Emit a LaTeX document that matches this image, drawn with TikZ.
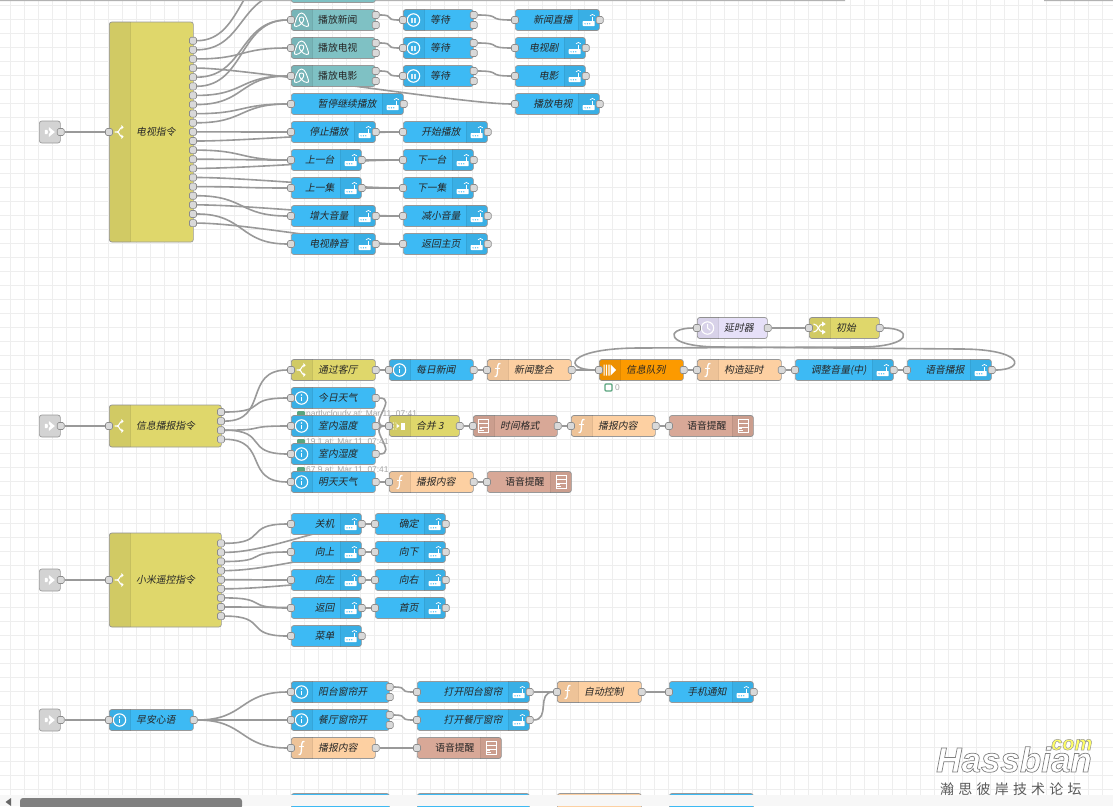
\documentclass[tikz,border=0pt]{standalone}
\usepackage{fontspec}
\usepackage{xcolor}
\usepackage{tikz}
\usetikzlibrary{backgrounds,calc}
\newfontfamily\cjkslant[FakeSlant=0.2]{Noto Sans CJK SC}
\newfontfamily\cjkup{Noto Sans CJK SC}
\newfontfamily\markcjk[LetterSpace=30]{Noto Sans CJK SC}
\newfontfamily\markfont{Liberation Sans}
\definecolor{flowblue}{HTML}{3DBAF4}
\definecolor{flowteal}{HTML}{7FC1C4}
\definecolor{flowolive}{HTML}{DFD76B}
\definecolor{floworange}{HTML}{FDD0A2}
\definecolor{flowqueue}{HTML}{FC9A00}
\definecolor{flowlavender}{HTML}{E6E0F8}
\definecolor{flowsalmon}{HTML}{D8A897}
\definecolor{flowgray}{HTML}{D3D3D3}
\definecolor{wiregray}{HTML}{999999}
\definecolor{gridgray}{HTML}{EEEEEE}
\definecolor{flowstatus}{HTML}{5AA57F}
\definecolor{markyellow}{HTML}{FFFF66}
\tikzset{
  flowbody/.style={rounded corners=2.5pt, draw=black!40, line width=0.7pt, inner sep=0pt, minimum height=21pt},
  devicenode/.style={fill=flowblue},
  alexanode/.style={fill=flowteal},
  switchnode/.style={fill=flowolive},
  funcnode/.style={fill=floworange},
  queuenode/.style={fill=flowqueue},
  delaynode/.style={fill=flowlavender},
  speechnode/.style={fill=flowsalmon},
  injectnode/.style={fill=flowgray, minimum height=22pt},
  iconstrip/.style={fill=black, fill opacity=0.06},
  stripline/.style={draw=black, draw opacity=0.1, line width=0.6pt},
  port/.style={rounded corners=1.5pt, draw=black!45, fill=black!15, line width=0.6pt, minimum size=7pt, inner sep=0pt},
  wire/.style={draw=wiregray, line width=1.6pt},
  gridline/.style={draw=gridgray, line width=0.8pt},
  flowlabel/.style={font=\cjkslant\fontsize{9.8}{10}\selectfont, text=black!85, inner sep=0pt},
  statustext/.style={font=\markfont\fontsize{8.4}{9}\selectfont, text=black!35, inner sep=0pt, anchor=west},
  statusdot/.style={fill=flowstatus, rounded corners=1pt},
  iconline/.style={draw=white, line width=1.1pt},
  iconrouter/.pic={
    \fill[white, rounded corners=0.6pt] (-6.5,1) rectangle (5.5,6);
    \fill[white] (2.6,1.5) rectangle (3.8,-3);
    \draw[white, line width=0.7pt] (0.8,-4.2) .. controls (2,-6) and (4.4,-6) .. (5.6,-4.2);
    \fill[flowblue] (-4.2,3.8) circle (0.7) (-1.8,3.8) circle (0.7) (0.6,3.8) circle (0.7);
  },
  iconinfo/.pic={
    \draw[iconline] (0,0) circle (6.2);
    \fill[white] (0,-3) circle (0.8);
    \draw[iconline] (0,-1) -- (0,3.2);
  },
  iconpause/.pic={
    \draw[iconline] (0,0) circle (6.2);
    \draw[white, opacity=0.8, line width=1.1pt] (-1.5,-2.5) -- (-1.5,2.5) (1.5,-2.5) -- (1.5,2.5);
  },
  iconfunc/.pic={
    \draw[white, line width=1.3pt] (3,-6.5) .. controls (0,-7.5) and (0.2,-3) .. (0,0) .. controls (-0.2,3) and (0,7.5) .. (-3,6.5);
    \draw[white, line width=1pt] (-2.5,-1.5) -- (2.5,-1.5);
  },
  iconswitch/.pic={
    \draw[iconline] (-5,0) -- (-2.5,0) .. controls (0,0) and (0,-4.5) .. (2.5,-4.5);
    \draw[iconline] (-2.5,0) .. controls (0,0) and (0,4.5) .. (2.5,4.5);
    \fill[white] (1.8,-7) -- (1.8,-2.5) -- (4.2,-4.7) -- cycle (1.8,7) -- (1.8,2.5) -- (4.2,4.7) -- cycle;
  },
  iconalexa/.pic={
    \draw[white, line width=0.9pt] (-7,4.5) .. controls (-6,1) and (-4,-7) .. (0,-7) .. controls (4,-7) and (6,1) .. (7,4.5)
      .. controls (8,7.5) and (3,7) .. (0,3.5) .. controls (-3,0.5) and (-3,-3) .. (0,-3) .. controls (3,-3) and (3,0.5) .. (0,3.5)
      .. controls (-3,7) and (-8,7.5) .. (-7,4.5);
  },
  iconinject/.pic={
    \fill[white] (-5,-2.2) -- (-1,-2.2) -- (-1,-5) -- (5,0) -- (-1,5) -- (-1,2.2) -- (-5,2.2) -- cycle;
    \fill[flowgray] (-3.2,-4.5) -- (0.5,0) -- (-3.2,4.5) -- (-1.7,0) -- cycle;
  },
  icontemplate/.pic={
    \draw[white, line width=0.8pt] (-4.8,-6.2) rectangle (4.8,6.2);
    \draw[white, line width=0.8pt] (-4.8,-2.2) -- (4.8,-2.2) (-1.5,1.8) -- (4.8,1.8) (-4.8,4) -- (0,4);
    \fill[white] (-3.8,0.5) rectangle (-1.5,2.8);
  },
  iconjoin/.pic={
    \fill[white] (-6,-3) circle (0.6) (-6,0) circle (0.6) (-6,3) circle (0.6) (-3.6,-3) circle (0.6) (-3.6,3) circle (0.6);
    \fill[white] (-3,-2.2) -- (0.2,0) -- (-3,2.2) -- cycle;
    \fill[white] (1.5,-3.5) rectangle (5.5,3.5);
  },
  iconqueue/.pic={
    \fill[white] (-6,-5.5) rectangle (-4.8,5.5) (-3.6,-5.5) rectangle (-2.4,5.5) (-1.2,-5.5) rectangle (0,5.5);
    \fill[white] (1.2,-5.5) -- (6.5,0) -- (1.2,5.5) -- cycle;
  },
  icondelay/.pic={
    \draw[white, line width=1.1pt] (0,0) circle (6.2);
    \draw[white, line width=1pt] (0,-3.8) -- (0,0) -- (2.8,2.2);
  },
  iconshuffle/.pic={
    \draw[iconline] (-6,-4) .. controls (-1,-4) and (-1,4) .. (3,4);
    \draw[iconline] (-6,4) .. controls (-1,4) and (-1,-4) .. (3,-4);
    \fill[white] (2.6,-6.5) -- (2.6,-1.5) -- (6.2,-4) -- cycle (2.6,6.5) -- (2.6,1.5) -- (6.2,4) -- cycle;
  }
}
\newcommand{\leftflow}[7]{%
  \node[flowbody,#5,minimum width=#4pt,anchor=west] (#1) at (#2,#3) {};
  \fill[iconstrip] [rounded corners=2.5pt] (#1.south west) -- (#1.north west) [sharp corners] -- ([xshift=21pt]#1.north west) -- ([xshift=21pt]#1.south west) [rounded corners=2.5pt] -- cycle;
  \draw[stripline] ([xshift=21pt]#1.north west) -- ([xshift=21pt]#1.south west);
  \pic at ([xshift=10.5pt]#1.west) {#6};
  \node[flowlabel,anchor=west] (#1-label) at ([xshift=27pt]#1.west) {#7};
  \node[port] (#1-i) at (#1.west) {};
}
\newcommand{\rightflow}[7]{%
  \node[flowbody,#5,minimum width=#4pt,anchor=west] (#1) at (#2,#3) {};
  \fill[iconstrip] [rounded corners=2.5pt] (#1.south east) -- (#1.north east) [sharp corners] -- ([xshift=-21pt]#1.north east) -- ([xshift=-21pt]#1.south east) [rounded corners=2.5pt] -- cycle;
  \draw[stripline] ([xshift=-21pt]#1.north east) -- ([xshift=-21pt]#1.south east);
  \pic at ([xshift=-10.5pt]#1.east) {#6};
  \node[flowlabel,anchor=east] (#1-label) at ([xshift=-27pt]#1.east) {#7};
  \node[port] (#1-i) at (#1.west) {};
}
\newcommand{\injectflow}[2]{%
  \node[flowbody,injectnode,minimum width=21pt,anchor=west] (#1) at (39,#2) {};
  \pic at (#1) {iconinject};
  \node[port] (#1-o) at (#1.east) {};
}
\newcommand{\outport}[1]{\node[port] (#1-o) at (#1.east) {};}
\newcommand{\twoports}[1]{%
  \node[port] (#1-o1) at ([yshift=5pt]#1.east) {};
  \node[port] (#1-o2) at ([yshift=-5pt]#1.east) {};
}
\newcommand{\wire}[3][52]{\draw[wire] (#2) .. controls +(#1,0) and +(-#1,0) .. (#3);}
\begin{document}
\begin{tikzpicture}[x=1pt,y=-1pt]
  \useasboundingbox (0,0) rectangle (1113,806);
  \begin{scope}[on background layer]
    \fill[white] (0,0) rectangle (1113,806);
    \foreach \gx in {10.5,24.5,...,1113} \draw[gridline] (\gx,0) -- (\gx,806);
    \foreach \gy in {5,19,...,806} \draw[gridline] (0,\gy) -- (1113,\gy);
  \end{scope}
  \fill[black!30] (0,0) rectangle (845,1) (1044,0) rectangle (1113,1);

  % television commands
  \injectflow{tvinject}{132}
  \leftflow{tvswitch}{109}{132}{84}{switchnode,minimum height=220pt}{iconswitch}{电视指令}
  \foreach \n in {1,...,21} \node[port] (tvswitch-\n) at (193,{40.7+(\n-1)*9.12}) {};
  \node[flowbody,alexanode,minimum width=84pt,anchor=west] (playhidden) at (291,-8) {};
  \coordinate (tvtopa) at (291,-36);
  \coordinate (tvtopb) at (291,-8);
  \leftflow{playnews}{291}{20}{84}{alexanode}{iconalexa}{\cjkup 播放新闻} \twoports{playnews}
  \leftflow{playtv}{291}{48}{84}{alexanode}{iconalexa}{\cjkup 播放电视} \twoports{playtv}
  \leftflow{playmovie}{291}{76}{84}{alexanode}{iconalexa}{\cjkup 播放电影} \twoports{playmovie}
  \leftflow{waitnews}{403}{20}{70}{devicenode}{iconpause}{等待} \twoports{waitnews}
  \leftflow{waittv}{403}{48}{70}{devicenode}{iconpause}{等待} \twoports{waittv}
  \leftflow{waitmovie}{403}{76}{70}{devicenode}{iconpause}{等待} \twoports{waitmovie}
  \rightflow{newslive}{515}{20}{84}{devicenode}{iconrouter}{新闻直播} \outport{newslive}
  \rightflow{drama}{515}{48}{70}{devicenode}{iconrouter}{电视剧} \outport{drama}
  \rightflow{movie}{515}{76}{70}{devicenode}{iconrouter}{电影} \outport{movie}
  \rightflow{tvshow}{515}{104}{84}{devicenode}{iconrouter}{播放电视} \outport{tvshow}
  \rightflow{pauseplay}{291}{104}{112}{devicenode}{iconrouter}{暂停继续播放} \outport{pauseplay}
  \rightflow{stopplay}{291}{132}{84}{devicenode}{iconrouter}{停止播放} \outport{stopplay}
  \rightflow{startplay}{403}{132}{84}{devicenode}{iconrouter}{开始播放} \outport{startplay}
  \rightflow{prevch}{291}{160}{70}{devicenode}{iconrouter}{上一台} \outport{prevch}
  \rightflow{nextch}{403}{160}{70}{devicenode}{iconrouter}{下一台} \outport{nextch}
  \rightflow{prevep}{291}{188}{70}{devicenode}{iconrouter}{上一集} \outport{prevep}
  \rightflow{nextep}{403}{188}{70}{devicenode}{iconrouter}{下一集} \outport{nextep}
  \rightflow{volup}{291}{216}{84}{devicenode}{iconrouter}{增大音量} \outport{volup}
  \rightflow{voldown}{403}{216}{84}{devicenode}{iconrouter}{减小音量} \outport{voldown}
  \rightflow{mute}{291}{244}{84}{devicenode}{iconrouter}{电视静音} \outport{mute}
  \rightflow{home}{403}{244}{84}{devicenode}{iconrouter}{返回主页} \outport{home}

  % spoken news and weather
  \fill[statusdot] (297,411) rectangle (305,418);
  \node[statustext] (todaystatus) at (306,414) {partlycloudy at: Mar 11, 07:41};
  \fill[statusdot] (297,439) rectangle (305,446);
  \node[statustext] (tempstatus) at (306,442) {19.1 at: Mar 11, 07:41};
  \fill[statusdot] (297,467) rectangle (305,474);
  \node[statustext] (humstatus) at (306,470) {67.9 at: Mar 11, 07:41};
  \injectflow{newsinject}{426}
  \leftflow{newsswitch}{109}{426}{112}{switchnode,minimum height=42pt}{iconswitch}{信息播报指令}
  \foreach \n in {1,...,4} \node[port] (newsswitch-\n) at (221,{412+(\n-1)*9.1}) {};
  \leftflow{viahall}{291}{370}{84}{switchnode}{iconswitch}{通过客厅} \outport{viahall}
  \leftflow{dailynews}{389}{370}{84}{devicenode}{iconinfo}{每日新闻} \outport{dailynews}
  \leftflow{newsmerge}{487}{370}{84}{funcnode}{iconfunc}{新闻整合} \outport{newsmerge}
  \leftflow{msgqueue}{599}{370}{84}{queuenode}{iconqueue}{信息队列} \outport{msgqueue}
  \leftflow{makedelay}{697}{370}{84}{funcnode}{iconfunc}{构造延时} \outport{makedelay}
  \rightflow{setvolume}{795}{370}{98}{devicenode}{iconrouter}{调整音量(中)} \outport{setvolume}
  \rightflow{speaknews}{907}{370}{84}{devicenode}{iconrouter}{语音播报} \outport{speaknews}
  \leftflow{delayer}{697}{328}{70}{delaynode}{icondelay}{延时器} \outport{delayer}
  \leftflow{initial}{809}{328}{70}{switchnode}{iconshuffle}{初始} \outport{initial}
  \draw[draw=flowstatus, line width=1.3pt, rounded corners=1pt] (605,384) rectangle (612,391);
  \node[statustext] (queuestatus) at (615,387.5) {0};
  \leftflow{todayw}{291}{398}{84}{devicenode}{iconinfo}{今日天气} \outport{todayw}
  \leftflow{roomtemp}{291}{426}{84}{devicenode}{iconinfo}{室内温度} \outport{roomtemp}
  \leftflow{roomhum}{291}{454}{84}{devicenode}{iconinfo}{室内湿度} \outport{roomhum}
  \leftflow{tomorroww}{291}{482}{84}{devicenode}{iconinfo}{明天天气} \outport{tomorroww}
  \leftflow{merge}{389}{426}{70}{switchnode}{iconjoin}{合并 3} \outport{merge}
  \leftflow{timefmt}{473}{426}{84}{speechnode}{icontemplate}{时间格式} \outport{timefmt}
  \leftflow{weathertext}{571}{426}{84}{funcnode}{iconfunc}{播报内容} \outport{weathertext}
  \rightflow{weathersay}{669}{426}{84}{speechnode}{icontemplate}{\cjkup 语音提醒}
  \leftflow{tomorrowtext}{389}{482}{84}{funcnode}{iconfunc}{播报内容} \outport{tomorrowtext}
  \rightflow{tomorrowsay}{487}{482}{84}{speechnode}{icontemplate}{\cjkup 语音提醒}

  % remote control
  \injectflow{miinject}{580}
  \leftflow{miswitch}{109}{580}{112}{switchnode,minimum height=94pt}{iconswitch}{小米遥控指令}
  \foreach \n in {1,...,9} \node[port] (miswitch-\n) at (221,{543.3+(\n-1)*9.1}) {};
  \rightflow{poweroff}{291}{524}{70}{devicenode}{iconrouter}{关机} \outport{poweroff}
  \rightflow{confirm}{375}{524}{70}{devicenode}{iconrouter}{确定} \outport{confirm}
  \rightflow{upkey}{291}{552}{70}{devicenode}{iconrouter}{向上} \outport{upkey}
  \rightflow{downkey}{375}{552}{70}{devicenode}{iconrouter}{向下} \outport{downkey}
  \rightflow{leftkey}{291}{580}{70}{devicenode}{iconrouter}{向左} \outport{leftkey}
  \rightflow{rightkey}{375}{580}{70}{devicenode}{iconrouter}{向右} \outport{rightkey}
  \rightflow{backkey}{291}{608}{70}{devicenode}{iconrouter}{返回} \outport{backkey}
  \rightflow{homekey}{375}{608}{70}{devicenode}{iconrouter}{首页} \outport{homekey}
  \rightflow{menukey}{291}{636}{70}{devicenode}{iconrouter}{菜单} \outport{menukey}

  % morning routine
  \injectflow{morninginject}{720}
  \leftflow{morning}{109}{720}{84}{devicenode}{iconinfo}{早安心语} \outport{morning}
  \leftflow{balcony}{291}{692}{98}{devicenode}{iconinfo}{阳台窗帘开} \twoports{balcony}
  \leftflow{dining}{291}{720}{98}{devicenode}{iconinfo}{餐厅窗帘开} \twoports{dining}
  \leftflow{morningtext}{291}{748}{84}{funcnode}{iconfunc}{播报内容} \outport{morningtext}
  \rightflow{openbalcony}{417}{692}{112}{devicenode}{iconrouter}{打开阳台窗帘} \outport{openbalcony}
  \rightflow{opendining}{417}{720}{112}{devicenode}{iconrouter}{打开餐厅窗帘} \outport{opendining}
  \rightflow{morningsay}{417}{748}{84}{speechnode}{icontemplate}{\cjkup 语音提醒}
  \leftflow{autoctl}{557}{692}{84}{funcnode}{iconfunc}{自动控制} \outport{autoctl}
  \rightflow{phonenote}{669}{692}{84}{devicenode}{iconrouter}{手机通知} \outport{phonenote}
  \node[flowbody,devicenode,minimum width=98pt,anchor=west] (lowera) at (291,804) {};
  \node[flowbody,devicenode,minimum width=112pt,anchor=west] (lowerb) at (417,804) {};
  \node[flowbody,funcnode,minimum width=84pt,anchor=west] (lowerc) at (557,804) {};
  \node[flowbody,devicenode,minimum width=84pt,anchor=west] (lowerd) at (669,804) {};

  \begin{scope}[on background layer]
    \wire[36]{tvinject-o}{tvswitch-i}
    \wire{tvswitch-1}{tvtopa}
    \wire{tvswitch-2}{tvtopb}
    \wire{tvswitch-3}{playtv-i}
    \wire{tvswitch-4}{tvshow-i}
    \wire{tvswitch-5}{playnews-i}
    \wire{tvswitch-6}{playnews-i}
    \wire{tvswitch-7}{playmovie-i}
    \wire{tvswitch-8}{playmovie-i}
    \wire{tvswitch-9}{pauseplay-i}
    \wire{tvswitch-10}{pauseplay-i}
    \wire{tvswitch-11}{stopplay-i}
    \wire{tvswitch-12}{startplay-i}
    \wire{tvswitch-13}{prevch-i}
    \wire{tvswitch-14}{prevch-i}
    \wire{tvswitch-15}{nextch-i}
    \wire{tvswitch-16}{nextep-i}
    \wire{tvswitch-17}{prevep-i}
    \wire{tvswitch-18}{volup-i}
    \wire{tvswitch-19}{voldown-i}
    \wire{tvswitch-20}{mute-i}
    \wire{tvswitch-21}{home-i}
    \wire[21]{playnews-o1}{waitnews-i}
    \wire[21]{playtv-o1}{waittv-i}
    \wire[21]{playmovie-o1}{waitmovie-i}
    \wire[30]{waitnews-o1}{newslive-i}
    \wire[30]{waittv-o1}{drama-i}
    \wire[30]{waitmovie-o1}{movie-i}
    \wire[21]{stopplay-o}{startplay-i}
    \wire[30]{prevch-o}{nextch-i}
    \wire[30]{prevep-o}{nextep-i}
    \wire[21]{volup-o}{voldown-i}
    \wire[21]{mute-o}{home-i}

    \wire[36]{newsinject-o}{newsswitch-i}
    \wire[48]{newsswitch-1}{todayw-i}
    \wire[48]{newsswitch-2}{viahall-i}
    \wire[48]{newsswitch-3}{roomtemp-i}
    \wire[48]{newsswitch-3}{roomhum-i}
    \wire[48]{newsswitch-4}{tomorroww-i}
    \wire[10]{viahall-o}{dailynews-i}
    \wire[10]{dailynews-o}{newsmerge-i}
    \wire[10]{newsmerge-o}{msgqueue-i}
    \wire[10]{msgqueue-o}{makedelay-i}
    \wire[10]{makedelay-o}{setvolume-i}
    \wire[10]{setvolume-o}{speaknews-i}
    \wire[30]{delayer-o}{initial-i}
    \wire[23]{todayw-o}{merge-i}
    \wire[10]{roomtemp-o}{merge-i}
    \wire[23]{roomhum-o}{merge-i}
    \wire[10]{merge-o}{timefmt-i}
    \wire[10]{timefmt-o}{weathertext-i}
    \wire[10]{weathertext-o}{weathersay-i}
    \wire[10]{tomorroww-o}{tomorrowtext-i}
    \wire[10]{tomorrowtext-o}{tomorrowsay-i}
    \coordinate (loopa) at (860,347);
    \coordinate (loopb) at (640,348);
    \coordinate (loopc) at (960,349);
    \coordinate (loopd) at (720,347);
    \draw[wire] (initial-o) .. controls +(34,0) and +(53,0) .. (loopa) -- (loopb) .. controls +(-75,0) and +(-37,0) .. (msgqueue-i);
    \draw[wire] (speaknews-o) .. controls +(34,0) and +(65,0) .. (loopc) -- (loopd) .. controls +(-56,0) and +(-33,0) .. (delayer-i);

    \wire[36]{miinject-o}{miswitch-i}
    \wire[48]{miswitch-1}{poweroff-i}
    \wire[48]{miswitch-2}{confirm-i}
    \wire[48]{miswitch-3}{upkey-i}
    \wire[48]{miswitch-4}{downkey-i}
    \wire[48]{miswitch-5}{leftkey-i}
    \wire[48]{miswitch-6}{rightkey-i}
    \wire[48]{miswitch-7}{backkey-i}
    \wire[48]{miswitch-8}{homekey-i}
    \wire[48]{miswitch-9}{menukey-i}
    \wire[10]{poweroff-o}{confirm-i}
    \wire[10]{upkey-o}{downkey-i}
    \wire[10]{leftkey-o}{rightkey-i}
    \wire[10]{backkey-o}{homekey-i}

    \wire[36]{morninginject-o}{morning-i}
    \wire{morning-o}{balcony-i}
    \wire{morning-o}{dining-i}
    \wire{morning-o}{morningtext-i}
    \wire[21]{balcony-o1}{openbalcony-i}
    \wire[21]{dining-o1}{opendining-i}
    \wire[21]{morningtext-o}{morningsay-i}
    \wire[21]{openbalcony-o}{autoctl-i}
    \wire[21]{opendining-o}{autoctl-i}
    \wire[21]{autoctl-o}{phonenote-i}
  \end{scope}

  % scroll bar and forum mark
  \fill[black!3] (0,795) rectangle (1113,806);
  \fill[black!50, rounded corners=3pt] (20,798) rectangle (242,809);
  \fill[black!60] (5.5,802) -- (11,798) -- (11,806) -- cycle;
  \node[inner sep=0pt, anchor=base west, text=white, font=\markfont\bfseries\itshape\fontsize{35}{35}\selectfont] (markname) at (936,772)
    {\special{pdf:code 2 Tr 0.7 w 0.5 G}Hassbian\special{pdf:code 0 Tr}};
  \node[inner sep=0pt, anchor=base west, text=markyellow, font=\markfont\bfseries\itshape\fontsize{20}{20}\selectfont] (markcom) at (1051,750)
    {\special{pdf:code 2 Tr 0.5 w 0.6 G}com\special{pdf:code 0 Tr}};
  \node[inner sep=0pt, anchor=west, text=black!65, font=\markcjk\fontsize{14}{14}\selectfont] (markcn) at (940,789) {瀚思彼岸技术论坛};
\end{tikzpicture}
\end{document}
